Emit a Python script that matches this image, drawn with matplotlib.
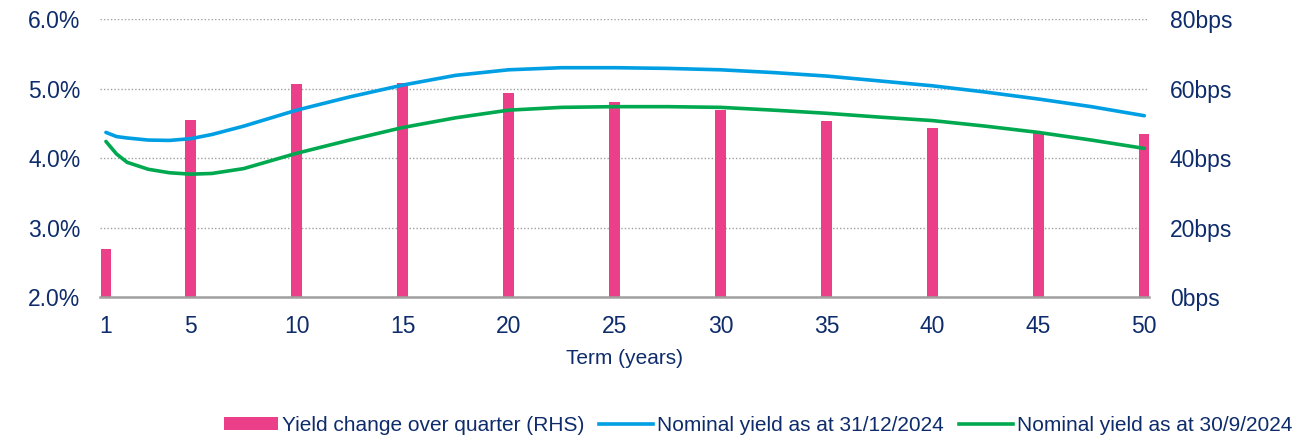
import matplotlib
matplotlib.use("Agg")
import matplotlib.pyplot as plt
from matplotlib.patches import Patch
from matplotlib.lines import Line2D
from matplotlib.ticker import FuncFormatter

plt.rcParams['font.family'] = ['Liberation Sans', 'DejaVu Sans']

# ---- data ----
bar_terms = [1, 5, 10, 15, 20, 25, 30, 35, 40, 45, 50]
yield_change_bps = [14, 51, 61.3, 61.5, 58.6, 56, 53.8, 50.7, 48.6, 47.1, 46.8]

curve_terms = [1, 1.5, 2, 3, 4, 5, 6, 7.5, 10, 12.5, 15, 17.5, 20, 22.5, 25,
               27.5, 30, 32.5, 35, 37.5, 40, 42.5, 45, 47.5, 50]
yield_dec_2024 = [4.37, 4.31, 4.29, 4.26, 4.255, 4.28, 4.34, 4.46, 4.69, 4.88,
                  5.05, 5.19, 5.27, 5.30, 5.30, 5.29, 5.27, 5.23, 5.18, 5.11,
                  5.04, 4.95, 4.85, 4.74, 4.61]
yield_sep_2024 = [4.24, 4.06, 3.94, 3.84, 3.79, 3.77, 3.78, 3.85, 4.07, 4.26,
                  4.44, 4.58, 4.69, 4.73, 4.74, 4.74, 4.73, 4.69, 4.645, 4.59,
                  4.54, 4.46, 4.37, 4.26, 4.14]

x_ticks = [1, 5, 10, 15, 20, 25, 30, 35, 40, 45, 50]
left_ticks = [2.0, 3.0, 4.0, 5.0, 6.0]
right_ticks = [0, 20, 40, 60, 80]

labels = ["Yield change over quarter (RHS)",
          "Nominal yield as at 31/12/2024",
          "Nominal yield as at 30/9/2024"]

# ---- style ----
PINK = "#EC3F8A"
BLUE = "#009FE3"
GREEN = "#00A94F"
NAVY = "#0E2C6B"
GRID = "#A0A0A0"

fig = plt.figure(figsize=(13.09, 4.41), dpi=100)
ax = fig.add_axes([100 / 1309, 1 - 297.3 / 441, 1049 / 1309, 278.3 / 441])
axr = ax.twinx()
ax.set_zorder(axr.get_zorder() + 1)
ax.patch.set_visible(False)

# bars on right axis
axr.bar(bar_terms, yield_change_bps, width=0.5, color=PINK, zorder=3)
axr.set_ylim(0, 80)
axr.set_yticks(right_ticks)
axr.yaxis.set_major_formatter(FuncFormatter(lambda v, p: f"{v:.0f}bps"))
axr.grid(axis='y', linestyle=(0, (1, 1.5)), color=GRID, linewidth=1.0, zorder=0)
axr.set_axisbelow(True)

# lines on left axis
ax.plot(curve_terms, yield_dec_2024, color=BLUE, linewidth=2.6, solid_capstyle='round')
ax.plot(curve_terms, yield_sep_2024, color=GREEN, linewidth=2.6, solid_capstyle='round')
ax.set_ylim(2.0, 6.0)
ax.set_yticks(left_ticks)
ax.yaxis.set_major_formatter(FuncFormatter(lambda v, p: f"{v:.1f}%"))
ax.set_xlim(0.72, 50.22)
ax.set_xticks(x_ticks)

for a in (ax, axr):
    for s in a.spines.values():
        s.set_visible(False)
    a.tick_params(length=0, colors=NAVY, labelsize=16.5)
ax.spines['bottom'].set_visible(True)
ax.spines['bottom'].set_color("#A0A0A0")
ax.spines['bottom'].set_linewidth(1.8)
ax.tick_params(axis='y', pad=14)
axr.tick_params(axis='y', pad=15)
ax.tick_params(axis='x', pad=13)

ax.set_xlabel("Term (years)", color=NAVY, fontsize=15, labelpad=8)

handles = [Patch(facecolor=PINK, edgecolor='none'),
           Line2D([0], [0], color=BLUE, linewidth=2.6),
           Line2D([0], [0], color=GREEN, linewidth=2.6)]
leg = fig.legend(handles, labels, loc='center', bbox_to_anchor=(0.579, 0.035),
                 ncol=3, frameon=False, fontsize=15, handlelength=2.6,
                 handleheight=0.6, handletextpad=0.2, columnspacing=0.7)
for t in leg.get_texts():
    t.set_color(NAVY)

fig.savefig("out.png", dpi=100)
